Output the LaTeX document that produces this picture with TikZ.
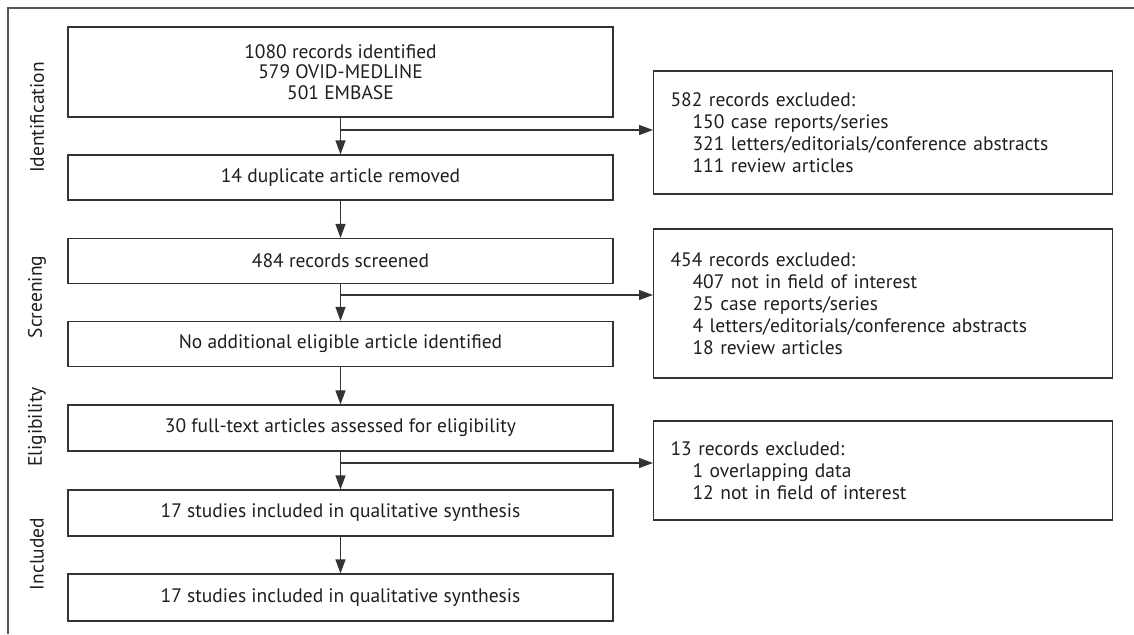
\documentclass[tikz,border=0pt]{standalone}
\usepackage{fontspec}
\setmainfont{PT Sans}
\usetikzlibrary{arrows.meta}
\definecolor{ln}{HTML}{333333}
\definecolor{tx}{HTML}{1E1E1E}
\definecolor{fr}{HTML}{555555}
\begin{document}
\begin{tikzpicture}[x=1pt,y=-1pt,
  font=\fontsize{19.5}{22}\selectfont,
  mainbox/.style={draw=ln, line width=1.2pt, minimum width=545pt, minimum height=45pt, inner sep=0pt, align=center, text=tx},
  sidebox/.style={draw=ln, line width=1.2pt, text width=425pt, inner xsep=17pt, inner ysep=0pt, align=left, anchor=west, text=tx},
  arr/.style={draw=ln, line width=1.2pt, -{Triangle[length=14pt,width=10pt]}},
  phase/.style={rotate=90, text=tx}]
\useasboundingbox (0,0) rectangle (1134,634);
\draw[fr, line width=1.5pt] (8,634) -- (8,8) -- (1134,8);

\node[mainbox, minimum height=90pt, font=\fontsize{19.5}{20.5}\selectfont] (b1) at (340.5,72) {1080 records identified\\579 OVID-MEDLINE\\501 EMBASE};
\node[mainbox] (b2) at (340.5,177.5) {14 duplicate article removed};
\node[mainbox] (b3) at (340.5,261) {484 records screened};
\node[mainbox] (b4) at (340.5,344) {No additional eligible article identified};
\node[mainbox, minimum height=46pt] (b5) at (340.5,428) {30 full-text articles assessed for eligibility};
\node[mainbox, minimum height=46pt] (b6) at (340.5,513) {17 studies included in qualitative synthesis};
\node[mainbox, minimum height=47pt] (b7) at (340.5,597.5) {17 studies included in qualitative synthesis};

\node[sidebox, minimum height=123pt] (r1) at (653,132.5) {582 records excluded:\\\hspace*{22pt}150 case reports/series\\\hspace*{22pt}321 letters/editorials/conference abstracts\\\hspace*{22pt}111 review articles};
\node[sidebox, minimum height=149pt] (r2) at (653,303.5) {454 records excluded:\\\hspace*{22pt}407 not in field of interest\\\hspace*{22pt}25 case reports/series\\\hspace*{22pt}4 letters/editorials/conference abstracts\\\hspace*{22pt}18 review articles};
\node[sidebox, minimum height=99pt] (r3) at (653,470.5) {13 records excluded:\\\hspace*{22pt}1 overlapping data\\\hspace*{22pt}12 not in field of interest};

\node[phase] (p1) at (37,117.5) {Identification};
\node[phase] (p2) at (37,297) {Screening};
\node[phase] (p3) at (37,427) {Eligibility};
\node[phase] (p4) at (37,554) {Included};

\draw[arr] (b1.south) -- (b2.north);
\draw[arr] (b2.south) -- (b3.north);
\draw[arr] (b3.south) -- (b4.north);
\draw[arr] (b4.south) -- (b5.north);
\draw[arr] (b5.south) -- (b6.north);
\draw[arr] (b6.south) -- (b7.north);

\coordinate (j1) at (340.5,130);
\coordinate (j2) at (340.5,295);
\coordinate (j3) at (340.5,463);
\draw[arr] (j1) -- (j1 -| r1.west);
\draw[arr] (j2) -- (j2 -| r2.west);
\draw[arr] (j3) -- (j3 -| r3.west);
\end{tikzpicture}
\end{document}
